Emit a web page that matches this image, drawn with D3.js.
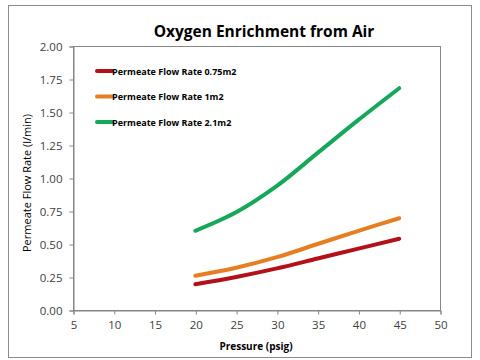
<!DOCTYPE html>
<html><head><meta charset="utf-8">
<script src="https://cdn.jsdelivr.net/npm/d3@7"></script>
<style>body{margin:0;background:#fff}svg{display:block}</style>
</head><body>
<script>
const pressure = [20, 25, 30, 35, 40, 45];
const flow075 = [0.195, 0.25, 0.315, 0.39, 0.465, 0.54];
const flow1 = [0.26, 0.32, 0.40, 0.50, 0.60, 0.695];
const flow21 = [0.60, 0.74, 0.94, 1.19, 1.44, 1.68];
const seriesNames = ["Permeate Flow Rate 0.75m2", "Permeate Flow Rate 1m2", "Permeate Flow Rate 2.1m2"];
const seriesColors = ["#B3101A", "#E67E22", "#16A85A"];
const xTicks = [5, 10, 15, 20, 25, 30, 35, 40, 45, 50];
const yTicks = [0, 0.25, 0.5, 0.75, 1.0, 1.25, 1.5, 1.75, 2.0];

const W = 480, H = 360;
const svg = d3.select("body").append("svg").attr("width", W).attr("height", H);
svg.append("rect").attr("x", 8.5).attr("y", 5.5).attr("width", 463).attr("height", 352)
  .attr("fill", "#fff").attr("stroke", "#8c8c8c").attr("stroke-width", 1);

const L = 73, R = 440, T = 46, B = 310;
const x = d3.scaleLinear().domain([5, 50]).range([L, R]);
const y = d3.scaleLinear().domain([0, 2]).range([B, T]);

svg.append("rect").attr("x", L + 0.5).attr("y", T + 0.5).attr("width", R - L).attr("height", B - T)
  .attr("fill", "none").attr("stroke", "#868686");

const font = "'Open Sans', 'DejaVu Sans', sans-serif";
const xAxis = svg.append("g").attr("transform", `translate(0.5,${B + 0.5})`)
  .call(d3.axisBottom(x).tickValues(xTicks).tickSize(4).tickPadding(6).tickFormat(d3.format("d")));
const yAxis = svg.append("g").attr("transform", `translate(${L + 0.5},0.5)`)
  .call(d3.axisLeft(y).tickValues(yTicks).tickSize(4).tickPadding(7).tickFormat(d3.format(".2f")));
[xAxis, yAxis].forEach(g => {
  g.select(".domain").attr("stroke", "#868686");
  g.selectAll(".tick line").attr("stroke", "#868686");
  g.selectAll(".tick text").attr("fill", "#404040").attr("font-size", 11.5).attr("font-family", font);
});

svg.append("text").attr("x", 264).attr("y", 37).attr("text-anchor", "middle")
  .attr("font-family", font).attr("font-weight", "bold").attr("font-size", 15.5).attr("fill", "#000")
  .text("Oxygen Enrichment from Air");
svg.append("text").attr("x", 256).attr("y", 350).attr("text-anchor", "middle")
  .attr("font-family", font).attr("font-weight", "bold").attr("font-size", 10).attr("fill", "#000")
  .text("Pressure (psig)");
svg.append("text").attr("transform", "translate(31,183) rotate(-90)").attr("text-anchor", "middle")
  .attr("font-family", font).attr("font-size", 11).attr("fill", "#000")
  .text("Permeate Flow Rate (l/min)");

const all = [flow075, flow1, flow21];
const line = d3.line().x(d => x(d[0])).y(d => y(d[1])).curve(d3.curveCatmullRom.alpha(0.5));
all.forEach((vals, i) => {
  svg.append("path").datum(pressure.map((p, j) => [p, vals[j]]))
    .attr("d", line).attr("fill", "none").attr("stroke", seriesColors[i])
    .attr("stroke-width", 4).attr("stroke-linecap", "round");
});

const legY = [71, 96.5, 122];
seriesNames.forEach((n, i) => {
  svg.append("line").attr("x1", 97).attr("x2", 112).attr("y1", legY[i]).attr("y2", legY[i])
    .attr("stroke", seriesColors[i]).attr("stroke-width", 4).attr("stroke-linecap", "round");
  svg.append("text").attr("x", 112).attr("y", legY[i] + 3.5)
    .attr("font-family", font).attr("font-weight", "bold").attr("font-size", 9).attr("fill", "#000")
    .text(n);
});
</script>
</body></html>
